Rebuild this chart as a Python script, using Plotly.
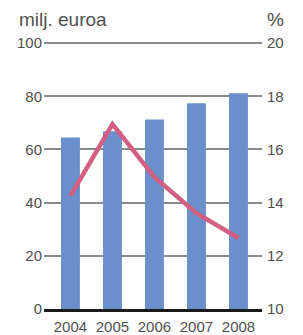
import plotly.graph_objects as go

years = ["2004", "2005", "2006", "2007", "2008"]
revenue = [64.5, 66.8, 71.3, 77.4, 81.1]   # milj. euroa (left axis)
percent = [14.25, 16.95, 14.96, 13.6, 12.67]  # % (right axis)
left_ticks = [0, 20, 40, 60, 80, 100]
right_ticks = [10, 12, 14, 16, 18, 20]

FONT = "Liberation Sans, Arial, sans-serif"
TXT = "#505050"

fig = go.Figure()
fig.add_trace(go.Bar(x=years, y=revenue, marker_color="#6a8fcb", width=0.45,
                     marker_line_width=0, yaxis="y"))
fig.add_trace(go.Scatter(x=years, y=percent, mode="lines",
                         line=dict(color="#d35f82", width=4.5), yaxis="y2"))

fig.update_layout(
    width=303, height=335,
    margin=dict(l=44, r=41, t=42, b=26),
    paper_bgcolor="white", plot_bgcolor="white",
    showlegend=False,
    font=dict(family=FONT, size=15, color=TXT),
    xaxis=dict(type="category", range=[-0.63, 4.56], showgrid=False,
               showline=True, linecolor="#1a1a1a", linewidth=3,
               layer="above traces", ticks="", automargin=False,
               tickfont=dict(size=15, color=TXT), ticklabelstandoff=2),
    yaxis=dict(range=[0, 100.4], tickvals=left_ticks, showgrid=True,
               gridcolor="#8a8a8a", gridwidth=1.5, zeroline=False, automargin=False,
               ticks="", tickfont=dict(size=15, color=TXT), ticklabelstandoff=1),
    yaxis2=dict(range=[10, 20.04], tickvals=right_ticks, overlaying="y", side="right",
                showgrid=False, zeroline=False, ticks="", automargin=False,
                tickfont=dict(size=15, color=TXT), ticklabelstandoff=4),
    annotations=[
        dict(text="milj. euroa", xref="paper", yref="paper", x=(19 - 44) / 218, y=1.0,
             xanchor="left", yanchor="bottom", yshift=10, xshift=-2, showarrow=False,
             font=dict(size=19, color=TXT, family=FONT)),
        dict(text="%", xref="paper", yref="paper", x=1.0, y=1.0, xshift=24,
             xanchor="right", yanchor="bottom", yshift=10, showarrow=False,
             font=dict(size=19, color=TXT, family=FONT)),
    ],
)

fig.write_html("out.html", config={"displayModeBar": False},
               post_script="document.body.style.margin='0';document.body.style.padding='0';")
